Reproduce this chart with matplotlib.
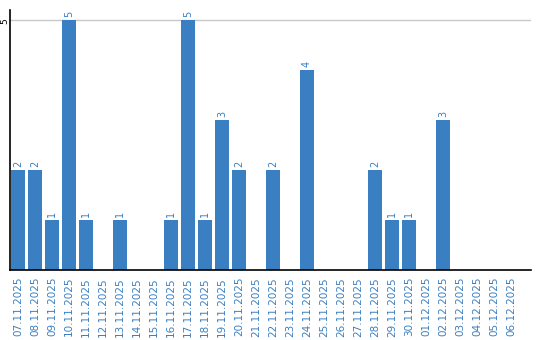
import matplotlib
matplotlib.use('Agg')
import matplotlib.pyplot as plt
import matplotlib.transforms as mtransforms
import numpy as np

dates = ['07.11.2025', '08.11.2025', '09.11.2025', '10.11.2025', '11.11.2025',
         '12.11.2025', '13.11.2025', '14.11.2025', '15.11.2025', '16.11.2025',
         '17.11.2025', '18.11.2025', '19.11.2025', '20.11.2025', '21.11.2025',
         '22.11.2025', '23.11.2025', '24.11.2025', '25.11.2025', '26.11.2025',
         '27.11.2025', '28.11.2025', '29.11.2025', '30.11.2025', '01.12.2025',
         '02.12.2025', '03.12.2025', '04.12.2025', '05.12.2025', '06.12.2025']
counts = [2, 2, 1, 5, 1, 0, 1, 0, 0, 1,
          5, 1, 3, 2, 0, 2, 0, 4, 0, 0,
          0, 2, 1, 1, 0, 3, 0, 0, 0, 0]
yticks = [5]

blue = '#3a7fc1'

fig = plt.figure(figsize=(5.4, 3.4), dpi=100)
ax = fig.add_axes([10 / 540, 70 / 340, 521 / 540, 260 / 340])

x = np.arange(len(dates))
ax.bar(x, counts, width=0.82, color=blue, zorder=2)

# value labels above non-empty bars
for xi, v in zip(x, counts):
    if v > 0:
        ax.text(xi, v + 0.06, str(v), rotation=90, ha='center', va='bottom',
                color=blue, fontsize=7, clip_on=False)

ax.set_xlim(-0.47, 30.18)
ax.set_ylim(0, 5.2)
ax.set_xticks(x)
ax.set_xticklabels(dates, rotation=90, color=blue, fontsize=7.5)
ax.set_yticks(yticks)
ax.set_yticklabels([])
ax.tick_params(axis='both', length=0)
ax.tick_params(axis='x', pad=5)
ax.grid(axis='y', color='#c8c8c8', linewidth=1, zorder=0)

# y tick label drawn by hand so it fits in the narrow left margin
trans = mtransforms.blended_transform_factory(fig.transFigure, ax.transData)
for t in yticks:
    ax.text(4.5 / 540, t - 0.03, str(t), transform=trans, rotation=90,
            ha='center', va='center', fontsize=6.5, color='black')

for s in ['top', 'right']:
    ax.spines[s].set_visible(False)
ax.spines['left'].set_linewidth(1.2)
ax.spines['bottom'].set_linewidth(1.2)

fig.savefig('out.png', dpi=100)
